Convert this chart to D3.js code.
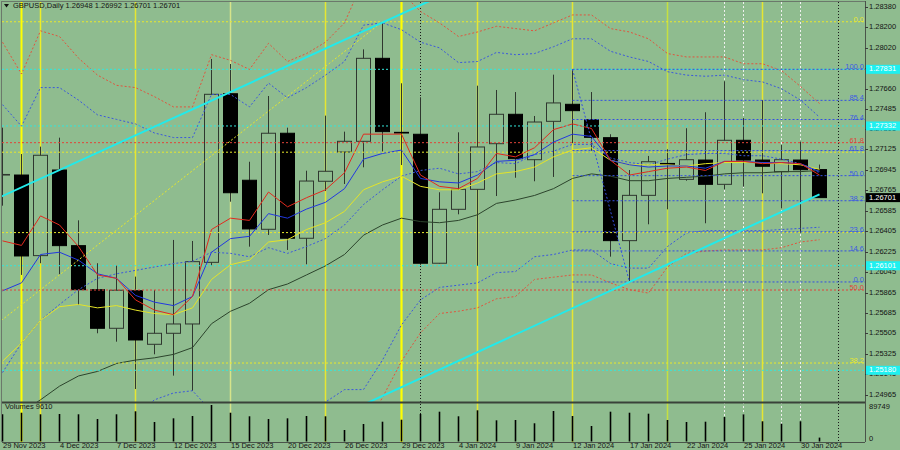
<!DOCTYPE html>
<html><head><meta charset="utf-8">
<script src="https://cdn.jsdelivr.net/npm/d3@7"></script>
<style>body{margin:0;background:#8fbc8f;} svg{display:block}</style>
</head><body>
<svg id="c" width="900" height="450"></svg>
<script>
// ---------------- DATA ----------------
const symbol = "GBPUSD,Daily";
const dates = ["29 Nov 2023","30 Nov 2023","1 Dec 2023","4 Dec 2023","5 Dec 2023","6 Dec 2023","7 Dec 2023","8 Dec 2023","11 Dec 2023","12 Dec 2023","13 Dec 2023","14 Dec 2023","15 Dec 2023","18 Dec 2023","19 Dec 2023","20 Dec 2023","21 Dec 2023","22 Dec 2023","26 Dec 2023","27 Dec 2023","28 Dec 2023","29 Dec 2023","2 Jan 2024","3 Jan 2024","4 Jan 2024","5 Jan 2024","8 Jan 2024","9 Jan 2024","10 Jan 2024","11 Jan 2024","12 Jan 2024","15 Jan 2024","16 Jan 2024","17 Jan 2024","18 Jan 2024","19 Jan 2024","22 Jan 2024","23 Jan 2024","24 Jan 2024","25 Jan 2024","26 Jan 2024","29 Jan 2024","30 Jan 2024","31 Jan 2024"];
const open  = [1.26900,1.26900,1.26190,1.26944,1.26278,1.25890,1.25550,1.25881,1.25409,1.25506,1.25588,1.26131,1.27616,1.26854,1.26422,1.27268,1.26343,1.26845,1.27103,1.27197,1.27928,1.27276,1.27259,1.26123,1.26598,1.26774,1.27176,1.27435,1.27035,1.27373,1.27523,1.27387,1.27229,1.26322,1.26721,1.27002,1.26862,1.27032,1.26818,1.27206,1.27032,1.26929,1.27032,1.26948];
const high  = [1.27317,1.27085,1.27150,1.27229,1.26501,1.26123,1.26101,1.26005,1.25887,1.26328,1.26319,1.27922,1.27878,1.27017,1.27596,1.27317,1.26938,1.27423,1.27282,1.28007,1.28250,1.27708,1.27585,1.26748,1.27276,1.27687,1.27649,1.27631,1.27420,1.27784,1.27831,1.27631,1.27259,1.26944,1.27068,1.27127,1.27312,1.27453,1.27726,1.27402,1.27561,1.27165,1.27194,1.26992];
const low   = [1.26630,1.26020,1.26123,1.26026,1.25755,1.25506,1.25432,1.25015,1.25321,1.25133,1.25000,1.26099,1.26665,1.26269,1.26372,1.26240,1.26114,1.26759,1.26821,1.26968,1.27106,1.26988,1.26108,1.26120,1.26554,1.26101,1.26715,1.26876,1.26845,1.26883,1.27180,1.27114,1.26181,1.25958,1.26466,1.26598,1.26850,1.26475,1.26774,1.26797,1.26739,1.26607,1.26392,1.26701];
const close = [1.26905,1.26187,1.27074,1.26278,1.25890,1.25550,1.25885,1.25447,1.25506,1.25588,1.26137,1.27611,1.26744,1.26425,1.27268,1.26343,1.26847,1.26933,1.27197,1.27928,1.27282,1.27270,1.26123,1.26598,1.26774,1.27147,1.27435,1.27044,1.27367,1.27535,1.27467,1.27232,1.26322,1.26721,1.27017,1.26993,1.27035,1.26818,1.27206,1.27032,1.26977,1.27035,1.26947,1.26701];
const volume = [66900,70800,66900,67600,66900,55300,66900,74300,48000,57000,62700,89749,70800,62000,55300,57000,62700,62000,28300,43000,48700,53600,67600,73300,62000,76700,52100,52900,44800,75000,62700,38100,73300,70800,68400,52900,48000,48700,60200,66900,49700,43800,49700,9610];

// moving averages
const maRed    = [1.2632,1.2628,1.2654,1.2646,1.2627,1.2602,1.2599,1.2580,1.2571,1.2567,1.2583,1.2642,1.2652,1.2650,1.2675,1.2662,1.2670,1.2677,1.2692,1.2726,1.2726,1.2726,1.2690,1.2680,1.2678,1.2687,1.2709,1.2706,1.2714,1.2730,1.2735,1.2731,1.2703,1.2690,1.2693,1.2696,1.2697,1.2694,1.2702,1.2702,1.2700,1.2701,1.2700,1.2690];
const maBlue   = [1.2588,1.2595,1.2620,1.2622,1.2615,1.2603,1.2599,1.2584,1.2578,1.2575,1.2583,1.2622,1.2634,1.2636,1.2656,1.2652,1.2660,1.2666,1.2678,1.2704,1.2709,1.2712,1.2687,1.2684,1.2683,1.2690,1.2702,1.2703,1.2708,1.2719,1.2726,1.2724,1.2703,1.2699,1.2697,1.2698,1.2698,1.2696,1.2702,1.2702,1.2701,1.2701,1.2700,1.2693];
const maYellow = [1.2526,1.2542,1.2562,1.2574,1.2576,1.2573,1.2575,1.2571,1.2568,1.2567,1.2573,1.2598,1.2611,1.2615,1.2631,1.2633,1.2642,1.2648,1.2658,1.2677,1.2684,1.2689,1.2680,1.2677,1.2677,1.2683,1.2691,1.2693,1.2697,1.2706,1.2712,1.2714,1.2703,1.2699,1.2699,1.2699,1.2698,1.2700,1.2701,1.2701,1.2701,1.2700,1.2699,1.2695];
const maLong   = [1.2470,1.2481,1.2492,1.2504,1.2513,1.2517,1.2524,1.2527,1.2529,1.2532,1.2538,1.2559,1.2570,1.2577,1.2589,1.2594,1.2602,1.2610,1.2620,1.2637,1.2646,1.2652,1.2649,1.2648,1.2650,1.2655,1.2665,1.2668,1.2672,1.2678,1.2687,1.2691,1.2689,1.2685,1.2685,1.2687,1.2688,1.2689,1.2691,1.2692,1.2692,1.2693,1.2693,1.2694];
// bollinger-type bands
const bandMid    = [1.2516,1.2542,1.2562,1.2576,1.2589,1.2599,1.2603,1.2606,1.2609,1.2612,1.2614,1.2622,1.2621,1.2618,1.2626,1.2621,1.2627,1.2634,1.2646,1.2664,1.2677,1.2689,1.2694,1.2696,1.2691,1.2693,1.2701,1.2700,1.2708,1.2711,1.2717,1.2717,1.2705,1.2701,1.2699,1.2704,1.2708,1.2709,1.2709,1.2707,1.2707,1.2704,1.2700,1.2692];
const bandUpBlue = [1.2752,1.2733,1.2767,1.2767,1.2756,1.2743,1.2739,1.2735,1.2727,1.2723,1.2723,1.2761,1.2761,1.2750,1.2771,1.2758,1.2767,1.2778,1.2790,1.2822,1.2824,1.2818,1.2807,1.2802,1.2789,1.2790,1.2798,1.2796,1.2797,1.2803,1.2810,1.2810,1.2799,1.2794,1.2790,1.2781,1.2778,1.2777,1.2778,1.2774,1.2772,1.2766,1.2756,1.2741];
const bandLoBlue = [1.2280,1.2350,1.2357,1.2384,1.2421,1.2455,1.2468,1.2478,1.2492,1.2498,1.2500,1.2482,1.2481,1.2485,1.2480,1.2484,1.2486,1.2490,1.2501,1.2501,1.2527,1.2558,1.2580,1.2591,1.2593,1.2595,1.2604,1.2605,1.2618,1.2620,1.2624,1.2624,1.2612,1.2608,1.2608,1.2627,1.2639,1.2641,1.2641,1.2641,1.2641,1.2642,1.2643,1.2644];
const bandUpRed  = [1.2807,1.2779,1.2817,1.2812,1.2793,1.2778,1.2769,1.2767,1.2759,1.2750,1.2750,1.2796,1.2791,1.2783,1.2806,1.2790,1.2797,1.2807,1.2824,1.2862,1.2860,1.2851,1.2834,1.2824,1.2812,1.2816,1.2821,1.2819,1.2817,1.2824,1.2831,1.2831,1.2819,1.2816,1.2810,1.2797,1.2794,1.2794,1.2794,1.2788,1.2788,1.2782,1.2768,1.2753];
const bandLoRed  = [1.2224,1.2305,1.2308,1.2339,1.2385,1.2420,1.2438,1.2445,1.2460,1.2474,1.2477,1.2448,1.2451,1.2453,1.2444,1.2452,1.2457,1.2461,1.2468,1.2465,1.2494,1.2526,1.2551,1.2568,1.2570,1.2573,1.2581,1.2583,1.2598,1.2600,1.2602,1.2602,1.2595,1.2589,1.2586,1.2609,1.2621,1.2623,1.2624,1.2624,1.2624,1.2626,1.2631,1.2633];

const priceTicks = [1.28380,1.28200,1.28020,1.27840,1.27660,1.27485,1.27305,1.27125,1.26945,1.26765,1.26585,1.26405,1.26225,1.26045,1.25865,1.25685,1.25505,1.25325,1.25145,1.24965];
const volumeTicks = [89749, 0];

// horizontal lines / objects
const cyanLevels = [1.27831,1.27332,1.26101,1.25180];
const redFibRatios = [61.8, 50.0];
const redFibPrices = [1.27185, 1.25887];
const yellowFibRatios = [0.0, 14.6, 23.6, 38.2];
const yellowFibLabelled = [0.0, 38.2];
const yellowFibAnchor = {bar0: 20, price0: 1.28250, bar100: -40, price100: 1.20381};
const blueFibRatios = [100.0, 85.4, 76.4, 61.8, 50.0, 38.2, 23.6, 14.6, 0.0];
const blueFibAnchor = {barHi: 30, priceHi: 1.27831, barLo: 33, priceLo: 1.25958};
const trendA = [[0, 1.26715],[22, 1.28396]];
const trendB = [[33, 1.25958],[43, 1.26730]];
const yellowVBars = [1,2,7,12,17,21,25,30,35,40];
const whiteVBars = [38,39,41,42];
const blackVBars = [22,44];

// ---------------- DRAW ----------------
const BG = '#8fbc8f', FONT = 'Liberation Sans, Arial, sans-serif', FS = 7.5;
const L = 2, R = 865, T = 2, MB = 402, VT = 403, VB = 442;
const svg = d3.select('#c');
svg.append('rect').attr('width',900).attr('height',450).attr('fill',BG);

const x = d3.scaleLinear().domain([0,44]).range([2.5,838.5]);
const y = d3.scaleLinear().domain([1.24965,1.28380]).range([394.7,7]);
const yv = d3.scaleLinear().domain([0,89749]).range([441.5,405]);

const defs = svg.append('defs');
defs.append('clipPath').attr('id','cm').append('rect').attr('x',L).attr('y',T).attr('width',R-L).attr('height',MB-T);
defs.append('clipPath').attr('id','cv').append('rect').attr('x',L).attr('y',VT).attr('width',R-L).attr('height',VB-VT);
defs.append('clipPath').attr('id','ca').append('rect').attr('x',L).attr('y',T).attr('width',R-L).attr('height',VB-T);

// vertical lines (background)
const vg = svg.append('g').attr('clip-path','url(#ca)');
const yellowStyle = {1:['#ffff00',2],2:['#eeee26',1.5],7:['#e6e632',1.5],12:['#d6e48a',1.5],17:['#e6e632',1.5],21:['#ffff00',2.2],25:['#e6e632',1.5],30:['#e6e632',1.5],35:['#c6e040',1.5],40:['#e6e632',1.5]};
vg.selectAll('.vy').data(yellowVBars).join('line')
  .attr('x1',d=>x(d)).attr('x2',d=>x(d)).attr('y1',T).attr('y2',VB)
  .attr('stroke',d=>yellowStyle[d][0]).attr('stroke-width',d=>yellowStyle[d][1]);
vg.selectAll('.vw').data(whiteVBars).join('line')
  .attr('x1',d=>x(d)).attr('x2',d=>x(d)).attr('y1',T).attr('y2',VB)
  .attr('stroke','#eef0ee').attr('stroke-width',1).attr('stroke-dasharray','2,2');
vg.selectAll('.vb').data(blackVBars).join('line')
  .attr('x1',d=>x(d)).attr('x2',d=>x(d)).attr('y1',T).attr('y2',VB)
  .attr('stroke','#1a1a1a').attr('stroke-width',1).attr('stroke-dasharray','1,2');

// candles
const cg = svg.append('g').attr('clip-path','url(#cm)');
const idx = d3.range(dates.length);
const WICK = '#2f372f';
cg.selectAll('.w').data(idx).join('line')
  .attr('x1',i=>x(i)).attr('x2',i=>x(i)).attr('y1',i=>y(high[i])).attr('y2',i=>y(low[i]))
  .attr('stroke',WICK).attr('stroke-width',1);
cg.selectAll('.b').data(idx).join('rect')
  .attr('x',i=>x(i)-7).attr('width',14)
  .attr('y',i=>y(Math.max(open[i],close[i])))
  .attr('height',i=>Math.max(Math.abs(y(open[i])-y(close[i])),0.6))
  .attr('fill',i=>close[i]>=open[i]?BG:'#000')
  .attr('stroke',i=>close[i]>=open[i]?WICK:'#000').attr('stroke-width',1);

// volumes
const volg = svg.append('g').attr('clip-path','url(#cv)');
volg.selectAll('line').data(idx).join('line')
  .attr('x1',i=>x(i)).attr('x2',i=>x(i)).attr('y1',yv(0)).attr('y2',i=>yv(volume[i]))
  .attr('stroke','#000').attr('stroke-width',1.6);

// indicator lines
const ig = svg.append('g').attr('clip-path','url(#cm)');
const line = d3.line().x((d,i)=>x(i)).y(d=>y(d));
const series = [
  [bandUpRed,'#e0553e','2,2'],[bandLoRed,'#e0553e','2,2'],
  [bandUpBlue,'#3b58dc','2,2'],[bandLoBlue,'#3b58dc','2,2'],[bandMid,'#3b58dc','2,2'],
  [maLong,'#2c442c',null],[maYellow,'#e4e428',null],[maBlue,'#2238e0',null],[maRed,'#e22a1e',null]
];
series.forEach(([d,c,dash])=>{
  const p = ig.append('path').attr('d',line(d)).attr('fill','none').attr('stroke',c).attr('stroke-width',1);
  if(dash) p.attr('stroke-dasharray',dash);
});

// horizontal levels
const hg = svg.append('g').attr('clip-path','url(#cm)');
function hline(p,c,x1){ hg.append('line').attr('x1',x1).attr('x2',R).attr('y1',y(p)).attr('y2',y(p))
  .attr('stroke',c).attr('stroke-width',1).attr('stroke-dasharray','2,2'); }
cyanLevels.forEach(p=>hline(p,'#34e6dc',L));
redFibPrices.forEach(p=>hline(p,'#e0443a',L));
const yfRange = yellowFibAnchor.price0 - yellowFibAnchor.price100;
const yfPrice = r => yellowFibAnchor.price0 - r/100*yfRange;
yellowFibRatios.forEach(r=>hline(yfPrice(r),'#e8e82c',L));
const bfRange = blueFibAnchor.priceHi - blueFibAnchor.priceLo;
const bfPrice = r => blueFibAnchor.priceLo + r/100*bfRange;
blueFibRatios.forEach(r=>hline(bfPrice(r),'#3450e0',x(blueFibAnchor.barHi)));

// fib diagonals
hg.append('line').attr('x1',x(yellowFibAnchor.bar100)).attr('y1',y(yellowFibAnchor.price100))
  .attr('x2',x(yellowFibAnchor.bar0)).attr('y2',y(yellowFibAnchor.price0))
  .attr('stroke','#e8e82c').attr('stroke-width',1).attr('stroke-dasharray','2,2');
hg.append('line').attr('x1',x(blueFibAnchor.barHi)).attr('y1',y(blueFibAnchor.priceHi))
  .attr('x2',x(blueFibAnchor.barLo)).attr('y2',y(blueFibAnchor.priceLo))
  .attr('stroke','#3450e0').attr('stroke-width',1).attr('stroke-dasharray','2,2');

// cyan trend lines
function trend(pts,b1,b2){
  const [[a,pa],[b,pb]] = pts; const f = t => pa + (t-a)*(pb-pa)/(b-a);
  hg.append('line').attr('x1',x(b1)).attr('y1',y(f(b1))).attr('x2',x(b2)).attr('y2',y(f(b2)))
    .attr('stroke','#22eaea').attr('stroke-width',2);
}
trend(trendA,-1,26);
trend(trendB,17,43);

// fib labels
const lg = svg.append('g').attr('font-family',FONT).attr('font-size',FS).attr('text-anchor','end');
blueFibRatios.forEach(r=>lg.append('text').attr('x',R-1).attr('y',y(bfPrice(r))).attr('fill','#3c5ae4').text(d3.format('.1f')(r)));
redFibRatios.forEach((r,i)=>lg.append('text').attr('x',R-1).attr('y',y(redFibPrices[i])).attr('fill','#e0443a').text(d3.format('.1f')(r)));
yellowFibLabelled.forEach(r=>lg.append('text').attr('x',R-1).attr('y',y(yfPrice(r))).attr('fill','#e8e82c').text(d3.format('.1f')(r)));

// frame
const fr = svg.append('g').attr('fill','none');
fr.append('line').attr('x1',L).attr('x2',R).attr('y1',1.5).attr('y2',1.5).attr('stroke','#6b786b');
fr.append('line').attr('x1',1.5).attr('x2',1.5).attr('y1',1).attr('y2',VB).attr('stroke','#6b786b');
fr.append('line').attr('x1',R+0.5).attr('x2',R+0.5).attr('y1',1).attr('y2',VB).attr('stroke','#4a544a');
fr.append('line').attr('x1',L).attr('x2',R).attr('y1',402.5).attr('y2',402.5).attr('stroke','#3a423a').attr('stroke-width',2);
fr.append('line').attr('x1',L).attr('x2',R).attr('y1',VB+0.5).attr('y2',VB+0.5).attr('stroke','#4a544a');

// price axis
const ax = svg.append('g').attr('font-family',FONT).attr('font-size',FS).attr('fill','#141414');
priceTicks.forEach(t=>{
  ax.append('line').attr('x1',R).attr('x2',R+3).attr('y1',Math.round(y(t))+0.5).attr('y2',Math.round(y(t))+0.5).attr('stroke','#3a3a3a');
  ax.append('text').attr('x',869).attr('y',y(t)).attr('dominant-baseline','middle').text(d3.format('.5f')(t));
});
volumeTicks.forEach(t=>{
  ax.append('text').attr('x',869).attr('y',t===0?439:407).attr('dominant-baseline','middle').text(t);
});
function tag(p,bg,fg){
  ax.append('rect').attr('x',R+1).attr('y',y(p)-4.5).attr('width',900-R-1).attr('height',9).attr('fill',bg);
  ax.append('text').attr('x',869).attr('y',y(p)).attr('dominant-baseline','middle').attr('fill',fg).text(d3.format('.5f')(p));
}
cyanLevels.forEach(p=>tag(p,'#1ef0f0','#ffffff'));
tag(close[close.length-1],'#000000','#ffffff');

// time axis
idx.filter(i=>i%3===0).forEach(i=>{
  ax.append('text').attr('x',x(i)+0.5).attr('y',446.5).attr('dominant-baseline','middle').text(dates[i]);
});

// title & volume caption
svg.append('path').attr('d','M4,4 L9,4 L6.5,7.5 Z').attr('fill','#111');
const n = dates.length-1;
svg.append('text').attr('x',13).attr('y',6).attr('dominant-baseline','middle')
  .attr('font-family',FONT).attr('font-size',FS).attr('fill','#141414')
  .text(`${symbol}  ${open[n].toFixed(5)} ${high[n].toFixed(5)} ${low[n].toFixed(5)} ${close[n].toFixed(5)}`);
svg.append('text').attr('x',5).attr('y',407.5).attr('dominant-baseline','middle')
  .attr('font-family',FONT).attr('font-size',FS).attr('fill','#141414')
  .text(`Volumes ${volume[n]}`);
</script>
</body></html>
